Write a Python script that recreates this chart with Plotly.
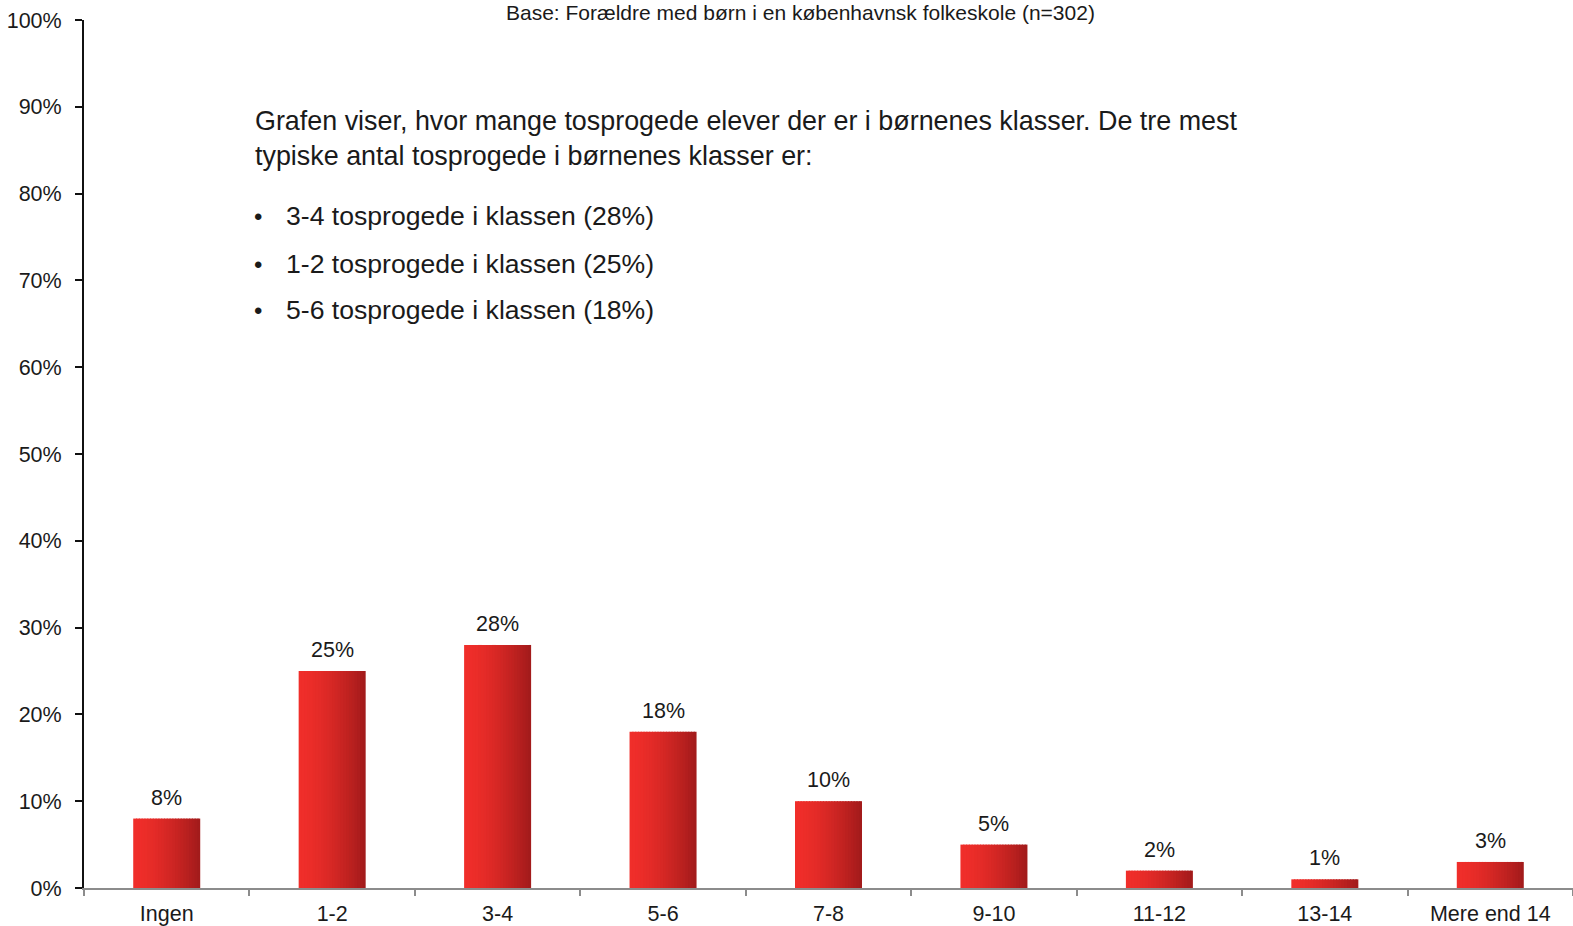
import plotly.graph_objects as go

categories = ["Ingen", "1-2", "3-4", "5-6", "7-8", "9-10", "11-12", "13-14", "Mere end 14"]
values = [0.08, 0.25, 0.28, 0.18, 0.10, 0.05, 0.02, 0.01, 0.03]
labels = ["8%", "25%", "28%", "18%", "10%", "5%", "2%", "1%", "3%"]
ytick_vals = [0, 0.1, 0.2, 0.3, 0.4, 0.5, 0.6, 0.7, 0.8, 0.9, 1.0]
subtitle = "Base: Forældre med børn i en københavnsk folkeskole (n=302)"
intro_lines = [
    "Grafen viser, hvor mange tosprogede elever der er i børnenes klasser. De tre mest",
    "typiske antal tosprogede i børnenes klasser er:",
]
bullets = [
    "3-4 tosprogede i klassen (28%)",
    "1-2 tosprogede i klassen (25%)",
    "5-6 tosprogede i klassen (18%)",
]

W, H = 1573, 926
ML, MR, MT, MB = 84, 0, 20, 38
PW, PH = W - ML - MR, H - MT - MB
FONT = "Liberation Sans, Arial, sans-serif"
TXT = "#1a1a1a"


def px_x(x):
    return (x - ML) / PW


def px_y(y):
    return (H - MB - y) / PH


fig = go.Figure()

# gradient bars built from thin overlaid slices
n = 24
bar_w = 0.405
sw = bar_w / n
c0 = (240, 46, 42)
c1 = (160, 26, 26)
for i in range(n):
    t = (i + 0.5) / n
    t2 = t ** 1.6
    col = tuple(int(round(c0[k] + (c1[k] - c0[k]) * t2)) for k in range(3))
    w = sw * 1.4 if i < n - 1 else sw
    fig.add_trace(go.Bar(
        x=categories, y=values,
        width=w, offset=-bar_w / 2 + i * sw,
        marker=dict(color="rgb(%d,%d,%d)" % col, line=dict(width=0)),
        showlegend=False, hoverinfo="skip",
    ))

annotations = []
for c, v, lab in zip(categories, values, labels):
    annotations.append(dict(x=c, y=v, xref="x", yref="y", text=lab, showarrow=False,
                            yanchor="middle", yshift=21,
                            font=dict(family=FONT, size=21.5, color=TXT)))

annotations.append(dict(x=px_x(800), y=px_y(-1), xref="paper", yref="paper", text=subtitle,
                        showarrow=False, xanchor="center", yanchor="top",
                        font=dict(family=FONT, size=21, color=TXT)))

for txt, yy in zip(intro_lines, [120.5, 156.5]):
    annotations.append(dict(x=px_x(253), y=px_y(yy), xref="paper", yref="paper", text=txt,
                            showarrow=False, xanchor="left", yanchor="middle",
                            font=dict(family=FONT, size=26.9, color=TXT)))
for txt, yy in zip(bullets, [216, 264, 310]):
    annotations.append(dict(x=px_x(252), y=px_y(yy), xref="paper", yref="paper", text="•",
                            showarrow=False, xanchor="left", yanchor="middle",
                            font=dict(family=FONT, size=24, color=TXT)))
    annotations.append(dict(x=px_x(284), y=px_y(yy), xref="paper", yref="paper", text=txt,
                            showarrow=False, xanchor="left", yanchor="middle",
                            font=dict(family=FONT, size=26.6, color=TXT)))

fig.update_layout(
    width=W, height=H,
    margin=dict(l=ML, r=MR, t=MT, b=MB, pad=0),
    paper_bgcolor="white", plot_bgcolor="white",
    barmode="overlay",
    showlegend=False,
    annotations=annotations,
    font=dict(family=FONT, size=21.5, color=TXT),
    xaxis=dict(
        type="category", range=[-0.5, len(categories) - 0.5],
        showline=True, linecolor="#8c8c8c", linewidth=2,
        ticks="outside", tickson="boundaries", ticklen=6, tickcolor="#8c8c8c", tickwidth=2,
        ticklabelstandoff=5,
        showgrid=False, zeroline=False,
        tickfont=dict(family=FONT, size=21.5, color=TXT),
    ),
    yaxis=dict(
        range=[0, 1], tickvals=ytick_vals, tickformat=".0%",
        showline=True, linecolor="#111", linewidth=2,
        ticks="outside", ticklen=7, tickcolor="#111", tickwidth=2,
        ticklabelstandoff=9,
        showgrid=False, zeroline=False,
        tickfont=dict(family=FONT, size=21.5, color=TXT),
    ),
)

fig.write_html(
    "out.html",
    config={"displayModeBar": False},
    post_script="document.body.style.margin='0';document.body.style.overflow='hidden';",
)
